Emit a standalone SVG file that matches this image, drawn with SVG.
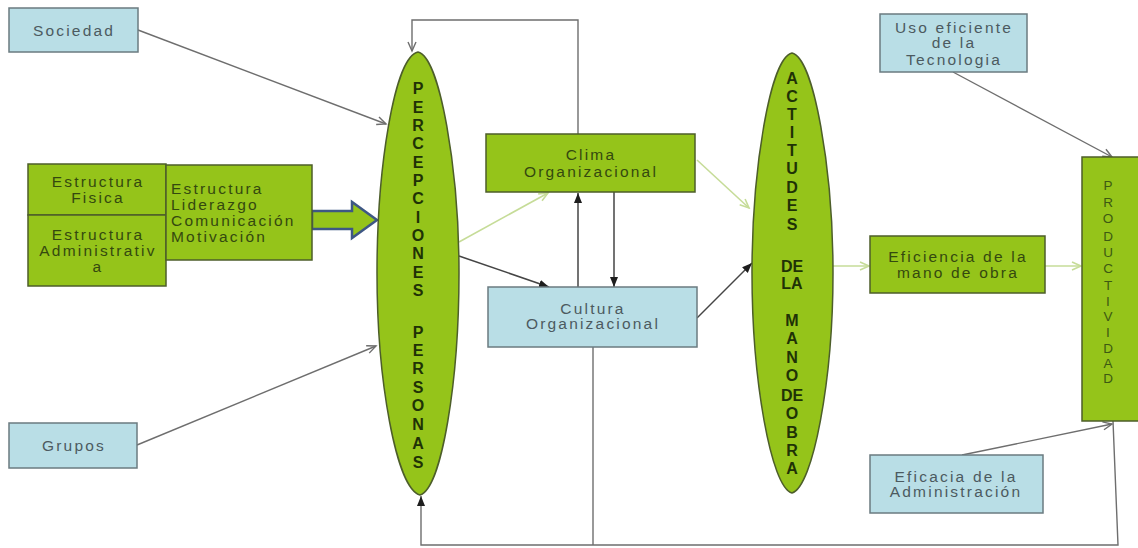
<svg xmlns="http://www.w3.org/2000/svg" width="1138" height="548" viewBox="0 0 1138 548">
<style>
.g{fill:#95c41a;stroke:#4d5e2a;stroke-width:1.5}
.b{fill:#b9dee6;stroke:#6b7b80;stroke-width:1.5}
.t{font-family:"Liberation Sans",Arial,sans-serif;font-size:15.5px;letter-spacing:2.2px;text-anchor:middle}
.tg{fill:#34490f}
.tb{fill:#4c5a60}
.v{font-family:"Liberation Sans",Arial,sans-serif;font-size:16px;font-weight:bold;fill:#1f3206;text-anchor:middle}
.p{font-family:"Liberation Sans",Arial,sans-serif;font-size:13.5px;fill:#3d5a12;text-anchor:middle}
.ln{fill:none;stroke:#6e6e6e;stroke-width:1.4}
.dk{fill:none;stroke:#454545;stroke-width:1.5}
.lg{fill:none;stroke:#c6dc98;stroke-width:1.6}
</style>
<defs>
<marker id="ao" markerUnits="userSpaceOnUse" markerWidth="12" markerHeight="10" refX="10" refY="5" orient="auto"><path d="M1,1 L10,5 L1,9" fill="none" stroke="#6e6e6e" stroke-width="1.4"/></marker>
<marker id="af" markerUnits="userSpaceOnUse" markerWidth="12" markerHeight="10" refX="10" refY="5" orient="auto"><path d="M0,1 L10,5 L0,9 Z" fill="#1e1e1e"/></marker>
<marker id="al" markerUnits="userSpaceOnUse" markerWidth="12" markerHeight="10" refX="10" refY="5" orient="auto"><path d="M1,1 L10,5 L1,9" fill="none" stroke="#c6dc98" stroke-width="1.6"/></marker>
</defs>
<rect width="1138" height="548" fill="#ffffff"/>
<g id="connectors">
<line class="ln" x1="138" y1="30" x2="386" y2="124" marker-end="url(#ao)"/>
<line class="ln" x1="137" y1="445" x2="376" y2="346" marker-end="url(#ao)"/>
<polyline class="ln" points="578,134 578,20 412,20 412,51" marker-end="url(#ao)"/>
<line class="lg" x1="459" y1="242" x2="548" y2="193" marker-end="url(#al)"/>
<line class="dk" x1="459" y1="256" x2="549" y2="287" marker-end="url(#af)"/>
<line class="dk" x1="578" y1="287" x2="578" y2="193" marker-end="url(#af)"/>
<line class="dk" x1="614" y1="192" x2="614" y2="287" marker-end="url(#af)"/>
<line class="lg" x1="697" y1="160" x2="749" y2="208" marker-end="url(#al)"/>
<line class="dk" x1="697" y1="318" x2="752" y2="263" marker-end="url(#af)"/>
<line class="lg" x1="833" y1="266" x2="869" y2="266" marker-end="url(#al)"/>
<line class="lg" x1="1045" y1="266" x2="1081" y2="266" marker-end="url(#al)"/>
<line class="ln" x1="953" y1="72" x2="1112" y2="157" marker-end="url(#ao)"/>
<line class="ln" x1="962" y1="455" x2="1112" y2="424" marker-end="url(#ao)"/>
<polyline class="ln" points="1113,421 1118,545 421,545 421,496" marker-end="url(#af)"/>
<line class="ln" x1="593" y1="347" x2="593" y2="545"/>
<polygon points="312,211 352,211 352,202 377,220 352,238 352,229 312,229" fill="#95c41a" stroke="#3e5784" stroke-width="2.5"/>
</g>
<g id="sociedad"><rect class="b" x="9" y="8" width="129" height="44"/><text class="t tb" x="74" y="36">Sociedad</text></g>
<g id="grupos"><rect class="b" x="9" y="423" width="128" height="45"/><text class="t tb" x="74" y="451">Grupos</text></g>
<g id="estructura-fisica"><rect class="g" x="28" y="164" width="138" height="51"/><text class="t tg" x="98" y="187">Estructura</text><text class="t tg" x="98" y="203">Fisica</text></g>
<g id="estructura-admin"><rect class="g" x="28" y="215" width="138" height="71"/><text class="t tg" x="98" y="240">Estructura</text><text class="t tg" x="98" y="256">Administrativ</text><text class="t tg" x="98" y="272">a</text></g>
<g id="estructura-lista"><rect class="g" x="166" y="165" width="146" height="95"/><text class="t tg" style="text-anchor:start" x="171" y="194">Estructura</text><text class="t tg" style="text-anchor:start" x="171" y="210">Liderazgo</text><text class="t tg" style="text-anchor:start" x="171" y="226">Comunicación</text><text class="t tg" style="text-anchor:start" x="171" y="242">Motivación</text></g>
<g id="percepciones">
<path class="g" d="M418,52 C394,57 377,170 377,273 C377,380 396,488 420,495 C442,488 459,380 459,273 C459,170 440,57 418,52 Z"/>
<text class="v" x="418" y="94">P</text><text class="v" x="418" y="113">E</text><text class="v" x="418" y="131">R</text><text class="v" x="418" y="149">C</text><text class="v" x="418" y="168">E</text><text class="v" x="418" y="186">P</text><text class="v" x="418" y="204">C</text><text class="v" x="418" y="223">I</text><text class="v" x="418" y="241">O</text><text class="v" x="418" y="259">N</text><text class="v" x="418" y="278">E</text><text class="v" x="418" y="296">S</text>
<text class="v" x="418" y="338">P</text><text class="v" x="418" y="356">E</text><text class="v" x="418" y="374">R</text><text class="v" x="418" y="393">S</text><text class="v" x="418" y="411">O</text><text class="v" x="418" y="430">N</text><text class="v" x="418" y="449">A</text><text class="v" x="418" y="468">S</text>
</g>
<g id="clima"><rect class="g" x="486" y="134" width="209" height="58"/><text class="t tg" x="591" y="160">Clima</text><text class="t tg" x="591" y="177">Organizacional</text></g>
<g id="cultura"><rect class="b" x="488" y="287" width="209" height="60"/><text class="t tb" x="593" y="314">Cultura</text><text class="t tb" x="593" y="329">Organizacional</text></g>
<g id="actitudes">
<path class="g" d="M792,53 C770,58 752,170 752,273 C752,380 771,487 792,493 C813,487 833,380 833,273 C833,170 814,58 792,53 Z"/>
<text class="v" x="792" y="84">A</text><text class="v" x="792" y="102">C</text><text class="v" x="792" y="120">T</text><text class="v" x="792" y="138">I</text><text class="v" x="792" y="156">T</text><text class="v" x="792" y="174">U</text><text class="v" x="792" y="193">D</text><text class="v" x="792" y="211">E</text><text class="v" x="792" y="230">S</text>
<text class="v" x="792" y="272">DE</text><text class="v" x="792" y="289">LA</text>
<text class="v" x="792" y="326">M</text><text class="v" x="792" y="344">A</text><text class="v" x="792" y="363">N</text><text class="v" x="792" y="381">O</text><text class="v" x="792" y="401">DE</text><text class="v" x="792" y="419">O</text><text class="v" x="792" y="438">B</text><text class="v" x="792" y="456">R</text><text class="v" x="792" y="474">A</text>
</g>
<g id="eficiencia"><rect class="g" x="870" y="236" width="175" height="57"/><text class="t tg" x="958" y="262">Eficiencia de la</text><text class="t tg" x="958" y="278">mano de obra</text></g>
<g id="uso-tecnologia"><rect class="b" x="880" y="14" width="147" height="58"/><text class="t tb" x="954" y="33">Uso eficiente</text><text class="t tb" x="954" y="48">de la</text><text class="t tb" x="954" y="65">Tecnologia</text></g>
<g id="eficacia"><rect class="b" x="870" y="455" width="173" height="58"/><text class="t tb" x="956" y="482">Eficacia de la</text><text class="t tb" x="956" y="497">Administración</text></g>
<g id="productividad"><rect class="g" x="1082" y="157" width="60" height="264"/>
<text class="p" x="1108" y="190">P</text><text class="p" x="1108" y="207">R</text><text class="p" x="1108" y="223">O</text><text class="p" x="1108" y="241">D</text><text class="p" x="1108" y="257">U</text><text class="p" x="1108" y="273">C</text><text class="p" x="1108" y="290">T</text><text class="p" x="1108" y="306">I</text><text class="p" x="1108" y="321">V</text><text class="p" x="1108" y="337">I</text><text class="p" x="1108" y="353">D</text><text class="p" x="1108" y="368">A</text><text class="p" x="1108" y="383">D</text>
</g>
</svg>
